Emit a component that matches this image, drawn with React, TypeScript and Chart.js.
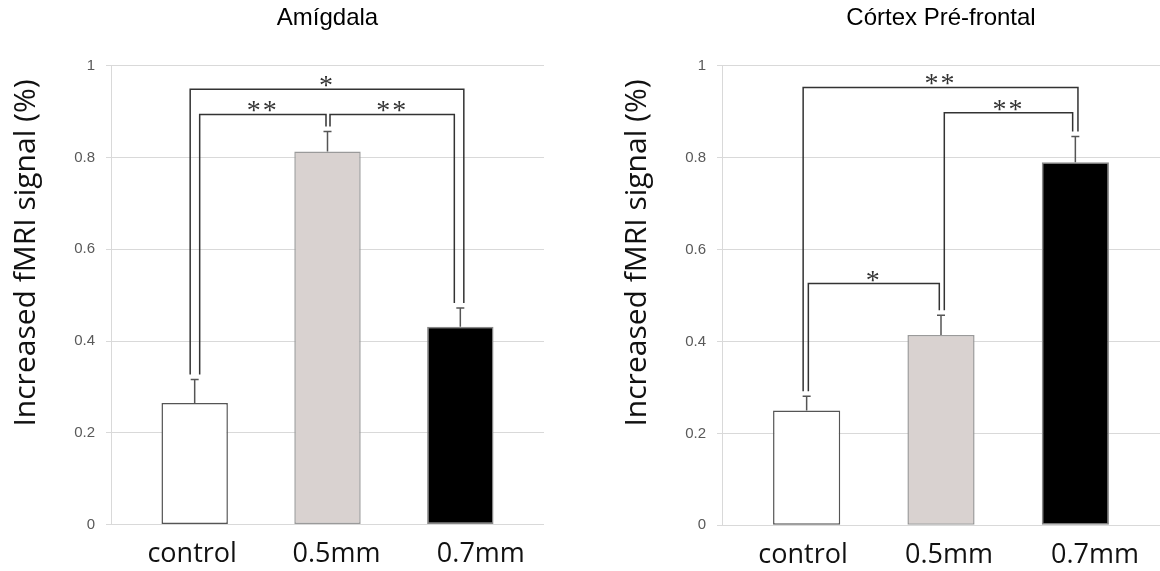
import React, { useEffect, useRef } from 'react';
import { Chart, registerables } from 'chart.js';

Chart.register(...registerables);

// ---------- data ----------
const categories = ['control', '0.5mm', '0.7mm'];
const categoryPositions = [0, 1, 2];
const yTickValues = [0, 0.2, 0.4, 0.6, 0.8, 1];
const yAxisTitle = 'Increased fMRI signal (%)';

const amigdalaTitle = 'Amígdala';
const amigdalaMeans = [0.265, 0.813, 0.431];
const amigdalaErrors = [0.051, 0.044, 0.041];
// [from category, to category, bracket level, label]
const amigdalaBrackets: [number, number, number, string][] = [
  [0, 2, 0.949, '*'],
  [0, 1, 0.894, '**'],
  [1, 2, 0.894, '**'],
];

const cortexTitle = 'Córtex Pré-frontal';
const cortexMeans = [0.25, 0.414, 0.79];
const cortexErrors = [0.031, 0.043, 0.056];
const cortexBrackets: [number, number, number, string][] = [
  [0, 2, 0.953, '**'],
  [1, 2, 0.898, '**'],
  [0, 1, 0.526, '*'],
];

// ---------- styles ----------
const barFills = ['#ffffff', '#d9d2d0', '#000000'];
const barBorders = ['#555555', '#9a9a9a', '#888888'];
const amigdalaBracketDx = [[-4.5, 3.5], [5, -1.5], [2.5, -6]];
const cortexBracketDx = [[-3.5, 2.6], [3.3, -2.7], [1.7, -1.7]];

type Panel = {
  title: string;
  means: number[];
  errors: number[];
  brackets: [number, number, number, string][];
  bracketDx: number[][];
  yAxisWidth: number;
  padRight: number;
  xAxisHeight: number;
  labelOffset: number;
  yTitleX: number;
  yTitleY: number;
};

function makeChart(canvas: HTMLCanvasElement, p: Panel) {
  const errorPlugin = {
    id: 'errorBars',
    afterDatasetsDraw(chart: any) {
      const { ctx } = chart;
      const xs = chart.scales.x;
      const ys = chart.scales.y;
      ctx.save();
      ctx.strokeStyle = '#555555';
      ctx.lineWidth = 1.5;
      p.means.forEach((m, i) => {
        const x = xs.getPixelForValue(categoryPositions[i]);
        const y0 = ys.getPixelForValue(m);
        const y1 = ys.getPixelForValue(m + p.errors[i]);
        ctx.beginPath();
        ctx.moveTo(x, y0);
        ctx.lineTo(x, y1);
        ctx.moveTo(x - 4, y1);
        ctx.lineTo(x + 4, y1);
        ctx.stroke();
      });
      // significance brackets
      ctx.strokeStyle = '#333333';
      ctx.lineWidth = 1.5;
      ctx.fillStyle = '#333333';
      ctx.font = '28px "Liberation Serif"';
      (ctx as any).letterSpacing = '2px';
      ctx.textAlign = 'center';
      ctx.textBaseline = 'alphabetic';
      p.brackets.forEach(([a, b, level, label], k) => {
        const dx = p.bracketDx[k];
        const xa = xs.getPixelForValue(categoryPositions[a]) + dx[0];
        const xb = xs.getPixelForValue(categoryPositions[b]) + dx[1];
        const yt = ys.getPixelForValue(level);
        const ya = ys.getPixelForValue(p.means[a] + p.errors[a]) - 5;
        const yb = ys.getPixelForValue(p.means[b] + p.errors[b]) - 5;
        ctx.beginPath();
        ctx.moveTo(xa, ya);
        ctx.lineTo(xa, yt);
        ctx.lineTo(xb, yt);
        ctx.lineTo(xb, yb);
        ctx.stroke();
        const mt = ctx.measureText(label);
        const cy = yt - 7.5;
        const base = cy + (mt.actualBoundingBoxAscent - mt.actualBoundingBoxDescent) / 2;
        ctx.fillText(label, (xa + xb) / 2, base);
      });
      ctx.restore();
    },
  };

  const yTitlePlugin = {
    id: 'yTitle',
    afterDraw(chart: any) {
      const { ctx } = chart;
      ctx.save();
      ctx.translate(p.yTitleX, p.yTitleY);
      ctx.rotate(-Math.PI / 2);
      ctx.font = '30px "Open Sans"';
      ctx.fillStyle = '#111111';
      ctx.textAlign = 'center';
      ctx.textBaseline = 'middle';
      ctx.fillText(yAxisTitle, 0, 0);
      ctx.restore();
    },
  };

  return new Chart(canvas, {
    type: 'bar',
    data: {
      datasets: [
        {
          data: p.means.map((v, i) => ({ x: categoryPositions[i], y: v })),
          backgroundColor: barFills,
          borderColor: barBorders,
          borderWidth: 1.5,
          borderSkipped: false,
          categoryPercentage: 1,
          barPercentage: 0.5,
          xAxisID: 'x',
          yAxisID: 'y',
        } as any,
      ],
    },
    options: {
      animation: false,
      responsive: false,
      layout: { padding: { left: 0, right: p.padRight, top: 0, bottom: 0 } },
      plugins: {
        legend: { display: false },
        tooltip: { enabled: false },
        title: {
          display: true,
          text: p.title,
          fullSize: false,
          color: '#000000',
          font: { family: 'Liberation Sans', size: 24, weight: 'normal' },
          padding: { top: 4, bottom: 33 },
        },
      },
      scales: {
        x: {
          type: 'linear',
          display: false,
          min: -0.63,
          max: 2.63,
          offset: false,
          afterBuildTicks(s: any) {
            s.ticks = categoryPositions.map((v) => ({ value: v }));
          },
        },
        xl: {
          type: 'category',
          position: 'bottom',
          labels: categories,
          offset: true,
          grid: { display: false, drawTicks: false },
          border: { display: false },
          ticks: {
            color: '#111111',
            font: { family: 'Open Sans', size: 27 },
            padding: 14,
            labelOffset: p.labelOffset,
            maxRotation: 0,
            autoSkip: false,
          },
          afterFit(s: any) {
            s.height = p.xAxisHeight;
          },
        },
        y: {
          type: 'linear',
          min: 0,
          max: 1,
          afterBuildTicks(s: any) {
            s.ticks = yTickValues.map((v) => ({ value: v }));
          },
          grid: { color: '#d9d9d9', lineWidth: 1, tickLength: 5, drawTicks: true },
          border: { color: '#d9d9d9' },
          ticks: {
            color: '#595959',
            font: { family: 'Liberation Sans', size: 15 },
            padding: 11,
            callback: (v: any) => String(v),
          },
          afterFit(s: any) {
            s.width = p.yAxisWidth;
          },
        },
      } as any,
    },
    plugins: [errorPlugin, yTitlePlugin],
  });
}

function ChartPanel({ panel }: { panel: Panel }) {
  const ref = useRef<HTMLCanvasElement>(null);
  useEffect(() => {
    if (!ref.current) return;
    const c = makeChart(ref.current, panel);
    return () => c.destroy();
  }, [panel]);
  return <canvas ref={ref} width={580} height={571} style={{ display: 'block', width: 580, height: 571 }} />;
}

const leftPanel: Panel = {
  title: amigdalaTitle,
  means: amigdalaMeans,
  errors: amigdalaErrors,
  brackets: amigdalaBrackets,
  bracketDx: amigdalaBracketDx,
  yAxisWidth: 111,
  padRight: 36,
  xAxisHeight: 46.5,
  labelOffset: 9,
  yTitleX: 26,
  yTitleY: 253,
};

const rightPanel: Panel = {
  title: cortexTitle,
  means: cortexMeans,
  errors: cortexErrors,
  brackets: cortexBrackets,
  bracketDx: cortexBracketDx,
  yAxisWidth: 142,
  padRight: 0,
  xAxisHeight: 45.7,
  labelOffset: 8,
  yTitleX: 57,
  yTitleY: 253,
};

export default function App() {
  return (
    <div
      style={{
        position: 'fixed',
        left: 0,
        top: 0,
        width: 1160,
        height: 571,
        display: 'flex',
        background: '#ffffff',
      }}
    >
      <ChartPanel panel={leftPanel} />
      <ChartPanel panel={rightPanel} />
    </div>
  );
}
